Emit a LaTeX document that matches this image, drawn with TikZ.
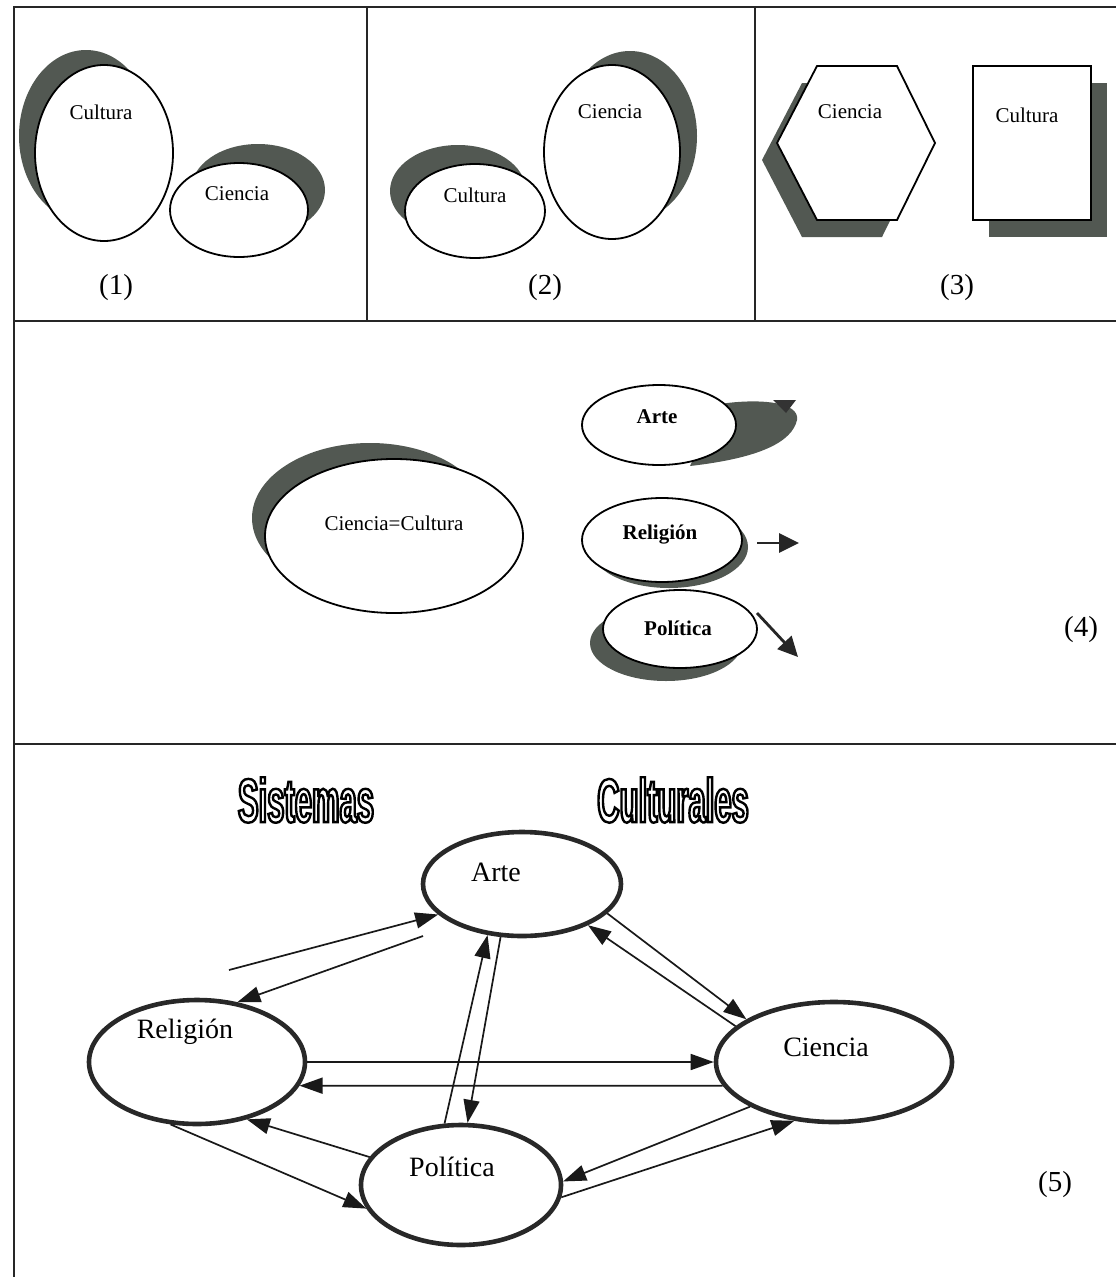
\documentclass[tikz,border=0pt]{standalone}
\usepackage{fontspec}
\setmainfont{Liberation Serif}
\newfontfamily\titlefont[FakeStretch=0.5]{Liberation Sans}
\usetikzlibrary{shapes.geometric,arrows.meta}
\definecolor{shadowc}{RGB}{82,88,82}
\definecolor{nodec}{RGB}{40,40,40}
\newcommand{\hollowtext}[1]{\special{pdf:literal direct 1 Tr 2.4 w}#1\special{pdf:literal direct 0 Tr}}
\begin{document}
\begin{tikzpicture}[x=1pt,y=-1pt,
  frame/.style={line width=2pt,draw=black!85},
  shad/.style={fill=shadowc,draw=none},
  sov/.style={ellipse,draw=black,line width=1.8pt,fill=white,inner sep=0pt},
  bigov/.style={ellipse,draw=nodec,line width=4.6pt,fill=white,inner sep=0pt},
  arr/.style={line width=1.7pt,draw=black!90,-{Triangle[length=23pt,width=16pt]}},
  thickarr/.style={line width=2.8pt,draw=black!85,-{Triangle[length=20pt,width=19pt]}},
  lbl/.style={font=\fontsize{21}{24}\selectfont,inner sep=0pt},
  lblb/.style={font=\fontsize{21}{24}\selectfont\bfseries,inner sep=0pt},
  num/.style={font=\fontsize{29}{32}\selectfont,inner sep=0pt},
  big/.style={font=\fontsize{28}{30}\selectfont,inner sep=0pt},
  ttl/.style={font=\fontsize{62}{62}\selectfont\titlefont\bfseries,inner sep=0pt}]
\useasboundingbox (0,0) rectangle (1116,1277);
\fill[white] (0,0) rectangle (1116,1277);

% frame
\draw[frame] (14,1277) -- (14,7) -- (1116,7);
\draw[frame] (14,321) -- (1116,321);
\draw[frame] (14,744) -- (1116,744);
\draw[frame] (367,7) -- (367,321);
\draw[frame] (755,7) -- (755,321);

% ---------- panel 1
\fill[shad] (86,136) ellipse [x radius=67, y radius=86];
\node[sov,minimum width=138pt,minimum height=176pt] (cul1) at (104,153) {};
\node[lbl] (cul1t) at (101,112) {Cultura};
\fill[shad] (258,190) ellipse [x radius=67, y radius=46];
\node[sov,minimum width=138pt,minimum height=94pt] (cie1) at (239,210) {};
\node[lbl] (cie1t) at (237,194) {Ciencia};
\node[num] (n1) at (116,288) {(1)};

% ---------- panel 2
\fill[shad] (458,191) ellipse [x radius=68, y radius=46];
\node[sov,minimum width=140pt,minimum height=94pt] (cul2) at (475,211) {};
\node[lbl] (cul2t) at (475,195) {Cultura};
\fill[shad] (630,136) ellipse [x radius=67, y radius=85];
\node[sov,minimum width=136pt,minimum height=174pt] (cie2) at (612,152) {};
\node[lbl] (cie2t) at (610,112) {Ciencia};
\node[num] (n2) at (545,288) {(2)};

% ---------- panel 3
\fill[shad] (802,83) -- (882,83) -- (920,160) -- (882,237) -- (802,237) -- (762,160) -- cycle;
\draw[line width=1.8pt,fill=white] (817,66) -- (897,66) -- (935,143) -- (897,220) -- (817,220) -- (777,143) -- cycle;
\node[lbl] (cie3t) at (850,112) {Ciencia};
\fill[shad] (989,83) rectangle (1107,237);
\draw[line width=1.8pt,fill=white] (973,66) rectangle (1091,220);
\node[lbl] (cul3t) at (1027,115) {Cultura};
\node[num] (n3) at (957,288) {(3)};

% ---------- panel 4
\fill[shad] (370,518) ellipse [x radius=118, y radius=75];
\node[sov,minimum width=258pt,minimum height=154pt] (cc4) at (394,536) {};
\node[lbl] (cc4t) at (394,523) {Ciencia=Cultura};

\fill[shad] (720,404) .. controls (760,398) and (800,402) .. (797,420) .. controls (792,442) and (760,458) .. (690,466) -- cycle;
\node[sov,minimum width=154pt,minimum height=80pt] (art4) at (659,425) {};
\node[lblb] (art4t) at (657,417) {Arte};
\fill[black!80] (773,400) -- (796,400) -- (786,413) -- cycle;

\fill[shad] (669,547) ellipse [x radius=79, y radius=41];
\node[sov,minimum width=160pt,minimum height=84pt] (rel4) at (662,540) {};
\node[lblb] (rel4t) at (660,535) {Religión};
\coordinate (ra0) at (757,543);
\coordinate (ra1) at (799,543);
\draw[thickarr] (ra0) -- (ra1);

\fill[shad] (666,643) ellipse [x radius=76, y radius=38];
\node[sov,minimum width=154pt,minimum height=78pt] (pol4) at (680,629) {};
\node[lblb] (pol4t) at (678,628) {Política};
\coordinate (pa0) at (757,613);
\coordinate (pa1) at (798,657);
\draw[thickarr] (pa0) -- (pa1);

\node[num] (n4) at (1081,630) {(4)};

% ---------- panel 5
\node[ttl] (tt1) at (306,800) {\hollowtext{Sistemas}};
\node[ttl] (tt2) at (673,800) {\hollowtext{Culturales}};

\node[bigov,minimum width=198pt,minimum height=104pt] (art) at (522,884) {};
\node[bigov,minimum width=216pt,minimum height=124pt] (rel) at (197,1062) {};
\node[bigov,minimum width=236pt,minimum height=120pt] (cie) at (834,1062) {};
\node[bigov,minimum width=200pt,minimum height=120pt] (pol) at (461,1185) {};
\node[big] (artt) at (496,872) {Arte};
\node[big] (relt) at (185,1032) {Religión};
\node[big] (ciet) at (826,1047) {Ciencia};
\node[big] (polt) at (452,1167) {Política};

\coordinate (a0) at (229,970);
\coordinate (b0) at (423,936);
\draw[arr] (a0) -- (art.200);
\draw[arr] (b0) -- (rel.56);
\draw[arr] (pol.105) -- (art.236);
\draw[arr] (art.248) -- (pol.84);
\draw[arr] (art.341) -- (cie.154);
\draw[arr] (cie.160) -- (art.328);
\draw[arr] (rel.0) -- (cie.180);
\draw[arr] (cie.192) -- (rel.-13);
\draw[arr] (cie.208) -- (pol.2);
\draw[arr] (pol.-7.5) -- (cie.236.5);
\draw[arr] (pol.163) -- (rel.-49);
\draw[arr] (rel.247) -- (pol.194);

\node[num] (n5) at (1055,1185) {(5)};
\end{tikzpicture}
\end{document}
